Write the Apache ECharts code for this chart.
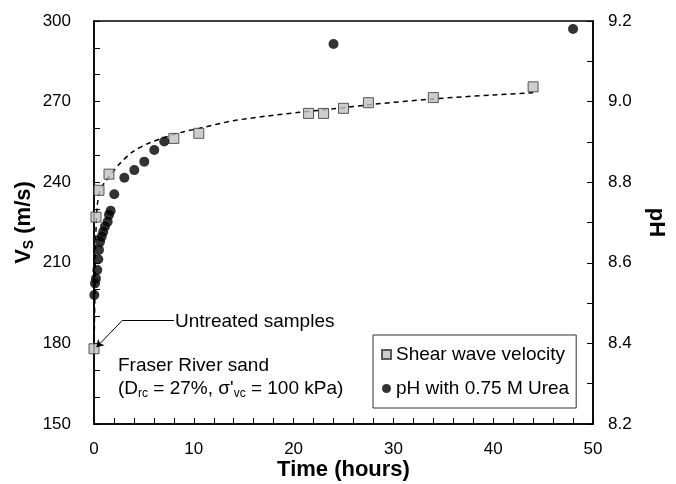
<!DOCTYPE html>
<html>
<head>
<meta charset="utf-8">
<script src="https://cdn.jsdelivr.net/npm/echarts@6/dist/echarts.min.js"></script>
<style>html,body{margin:0;padding:0;background:#fff;}#c{width:676px;height:484px;}</style>
</head>
<body>
<div id="c"></div>
<script>
// ---- data ----
const vsTime = [0, 0.2, 0.5, 1.5, 8, 10.5, 21.5, 23, 25, 27.5, 34, 44];
const vsValues = [178, 227, 237, 243, 256.3, 258.2, 265.6, 265.6, 267.5, 269.6, 271.5, 275.5];

const phTime = [0.03, 0.1, 0.2, 0.33, 0.43, 0.5, 0.6, 0.77, 0.93, 1.1, 1.37, 1.5, 1.67, 2.03, 3.04, 4.04, 5.04, 6.04, 7.04, 24, 48];
const phValues = [8.52, 8.549, 8.561, 8.582, 8.609, 8.632, 8.652, 8.665, 8.677, 8.69, 8.702, 8.719, 8.729, 8.77, 8.811, 8.83, 8.851, 8.88, 8.901, 9.143, 9.18];

const trendTime = [0, 0.1, 0.2, 0.35, 0.6, 1.0, 1.6, 2.6, 3.9, 5.6, 7.3, 9, 10.6, 14, 17.3, 20.6, 24, 28, 34, 40, 44];
const trendVs = [178, 200, 222, 232, 237, 239.5, 242.5, 247, 251.4, 254.7, 256.9, 258.8, 260.1, 262.9, 264.6, 266, 267.3, 269, 271, 272.5, 273.3];

const xTicks = {min: 0, max: 50, interval: 10};
const vsTicks = {min: 150, max: 300, interval: 30};
const phTicks = {min: 8.2, max: 9.2, interval: 0.2};

// annotation anchor values (data space)
const noteTextEnd = [8.0, 188.7];
const noteCorner = [2.88, 188.7];
const noteTip = [0.25, 178.6];

const FONT = 'Liberation Sans, Arial, sans-serif';
const zip = (a, b) => a.map((v, i) => [v, b[i]]);

const chart = echarts.init(document.getElementById('c'));
const axisLine = {show: true, lineStyle: {color: '#000', width: 1.5}};
const tick = {show: true, inside: true, length: 6, lineStyle: {color: '#000', width: 1}};
const minor = (n) => ({show: true, splitNumber: n, length: 6, lineStyle: {color: '#000', width: 1}});

chart.setOption({
  animation: false,
  backgroundColor: '#fff',
  grid: {left: 94, right: 83, top: 21, bottom: 60, show: true, borderColor: '#000', borderWidth: 1.5,
         backgroundColor: 'transparent', containLabel: false, outerBoundsMode: 'none'},
  xAxis: {
    type: 'value', min: xTicks.min, max: xTicks.max, interval: xTicks.interval,
    axisLine: axisLine, axisTick: tick, minorTick: minor(5), splitLine: {show: false},
    axisLabel: {fontFamily: FONT, fontSize: 17, color: '#000', margin: 17},
    name: 'Time (hours)', nameLocation: 'middle', nameGap: 35, nameMoveOverlap: false,
    nameTextStyle: {fontFamily: FONT, fontSize: 22, fontWeight: 'bold', color: '#000'}
  },
  yAxis: [{
    type: 'value', position: 'left', min: vsTicks.min, max: vsTicks.max, interval: vsTicks.interval,
    axisLine: axisLine, axisTick: tick, minorTick: minor(3), splitLine: {show: false},
    axisLabel: {fontFamily: FONT, fontSize: 17, color: '#000', margin: 23},
    name: '{v|V}{s|S}{v| (m/s)}', nameLocation: 'middle', nameGap: 58, nameRotate: 90, nameMoveOverlap: false,
    nameTextStyle: {fontFamily: FONT, color: '#000',
      rich: {v: {fontFamily: FONT, fontSize: 22, fontWeight: 'bold', color: '#000'},
             s: {fontFamily: FONT, fontSize: 14, fontWeight: 'bold', color: '#000', padding: [10, 0, 0, 0]}}}
  }, {
    type: 'value', position: 'right', min: phTicks.min, max: phTicks.max, interval: phTicks.interval,
    axisLine: axisLine, axisTick: tick, minorTick: minor(2), splitLine: {show: false},
    axisLabel: {fontFamily: FONT, fontSize: 17, color: '#000', margin: 15, formatter: v => v.toFixed(1)},
    name: 'pH', nameLocation: 'middle', nameGap: 52, nameRotate: -90, nameMoveOverlap: false,
    nameTextStyle: {fontFamily: FONT, fontSize: 22, fontWeight: 'bold', color: '#000'}
  }],
  legend: {
    orient: 'vertical', left: 373, top: 335, padding: [10, 7, 10, 8], itemGap: 15,
    borderColor: '#333', borderWidth: 1, backgroundColor: '#fff',
    itemWidth: 9, itemHeight: 9,
    textStyle: {fontFamily: FONT, fontSize: 19, color: '#000'},
    data: [{name: 'Shear wave velocity', icon: 'rect'}, {name: 'pH with 0.75 M Urea', icon: 'circle'}]
  },
  series: [{
    name: 'trend', type: 'line', data: zip(trendTime, trendVs), yAxisIndex: 0,
    showSymbol: false, symbol: 'none', smooth: 0.3, silent: true,
    lineStyle: {color: '#000', width: 1.5, type: [5, 4]}, z: 1
  }, {
    name: 'Shear wave velocity', type: 'scatter', yAxisIndex: 0, data: zip(vsTime, vsValues),
    symbol: 'rect', symbolSize: 10,
    itemStyle: {color: '#c0c0c0', borderColor: '#333', borderWidth: 1}, z: 3
  }, {
    name: 'pH with 0.75 M Urea', type: 'scatter', yAxisIndex: 1, data: zip(phTime, phValues),
    symbol: 'circle', symbolSize: 10,
    itemStyle: {color: '#000'}, z: 4
  }, {
    name: 'note', type: 'line', yAxisIndex: 0, data: [], silent: true,
    markLine: {
      silent: true, animation: false, label: {show: false},
      lineStyle: {color: '#000', width: 1, type: 'solid'},
      symbolSize: 7,
      data: [
        [{coord: noteTextEnd, symbol: 'none'}, {coord: noteCorner, symbol: 'none'}],
        [{coord: noteCorner, symbol: 'none'}, {coord: noteTip, symbol: 'arrow'}]
      ]
    }
  }],
  graphic: [
    {type: 'text', left: 175, top: 312, style: {text: 'Untreated samples', font: '19px ' + FONT, fill: '#000'}},
    {type: 'text', left: 118, top: 356, style: {text: 'Fraser River sand', font: '19px ' + FONT, fill: '#000'}},
    {type: 'text', left: 118, top: 379, style: {
      text: '{a|(D}{b|rc}{a| = 27%, σ\'}{b|vc}{a| = 100 kPa)}',
      rich: {a: {fontFamily: FONT, fontSize: 19, fill: '#000', lineHeight: 23},
             b: {fontFamily: FONT, fontSize: 12, fill: '#000', padding: [10, 0, 0, 0]}}
    }}
  ]
});
</script>
</body>
</html>
